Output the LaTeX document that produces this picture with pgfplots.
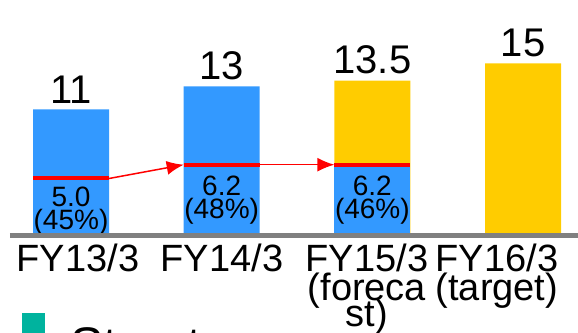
\documentclass[border=0pt]{standalone}
\usepackage{pgfplots}
\pgfplotsset{compat=1.18}
\usetikzlibrary{arrows.meta}
\usepackage{fontspec}
\setmainfont{Liberation Sans}

\definecolor{barblue}{HTML}{3399FF}
\definecolor{baryellow}{HTML}{FFCC00}
\definecolor{axisgray}{HTML}{808080}
\definecolor{bullet}{HTML}{00B39E}

% category labels: tight, fixed line spacing
\newcommand\catfont{\fontsize{19}{14.5}\selectfont\lineskiplimit=-100pt\relax}

\begin{document}
\begin{tikzpicture}
\useasboundingbox (0,0) rectangle (289pt,166pt);
\clip (0,0) rectangle (289pt,166pt);

\begin{axis}[
  at={(5pt,48pt)}, anchor=south west,
  scale only axis, width=284pt, height=115pt,
  xmin=-0.405, xmax=3.365, ymin=0, ymax=20,
  axis x line=bottom, axis y line=none,
  axis line style={draw=axisgray, line width=2.5pt, -},
  axis on top,
  xtick={0.046,1.002,1.964,2.827},
  xticklabels={FY13/3, FY14/3, {FY15/3\\(foreca\\[-1.5pt]st)}, {FY16/3\\(target)}},
  major tick length=0pt,
  xticklabel style={font=\catfont, align=center, anchor=north, yshift=-0.5pt},
  clip=false,
  /pgf/number format/assume math mode=true,
  nodes near coords style={font=\fontsize{20}{24}\selectfont, anchor=south, inner sep=1pt, yshift=2pt},
]
% full-year results: whole bars in blue
\addplot[ybar, bar width=38pt, bar shift=0pt, fill=barblue, draw=none, nodes near coords]
  coordinates {(0,11) (1,13)};
% forecast and target totals in yellow
\addplot[ybar, bar width=38pt, bar shift=0pt, fill=baryellow, draw=none, nodes near coords]
  coordinates {(2,13.5) (3,15)};
% achieved portion of the forecast year
\addplot[ybar, bar width=38pt, bar shift=0pt, fill=barblue, draw=none]
  coordinates {(2,6.2)};

% red level lines with their values
\addplot[red, line width=2pt] coordinates {(-0.252,5.0) (0.252,5.0)}
  node[pos=0.5, below=0pt, align=center, text=black, font=\fontsize{14}{11.5}\selectfont] {5.0\\(45\%)};
\addplot[red, line width=2pt] coordinates {(0.748,6.2) (1.252,6.2)}
  node[pos=0.5, below=1.5pt, align=center, text=black, font=\fontsize{14}{11.5}\selectfont] {6.2\\(48\%)};
\addplot[red, line width=2pt] coordinates {(1.748,6.2) (2.252,6.2)}
  node[pos=0.5, below=1.5pt, align=center, text=black, font=\fontsize{14}{11.5}\selectfont] {6.2\\(46\%)};

% growth arrows between the levels
\addplot[red, line width=0.75pt, -{Latex[length=8.5pt,width=7pt]}]
  coordinates {(0.252,5.0) (0.748,6.2)};
\addplot[red, line width=0.75pt, -{Latex[length=8.5pt,width=7pt]}]
  coordinates {(1.252,6.2) (1.748,6.2)};
\end{axis}

% bullet heading below the chart
\node[anchor=base west, inner sep=0pt] at (11pt,-15pt)
  {\textcolor{bullet}{\rule[13pt]{11.5pt}{11.5pt}}\hspace{12.5pt}\fontsize{25}{30}\selectfont Structure};
\end{tikzpicture}
\end{document}
